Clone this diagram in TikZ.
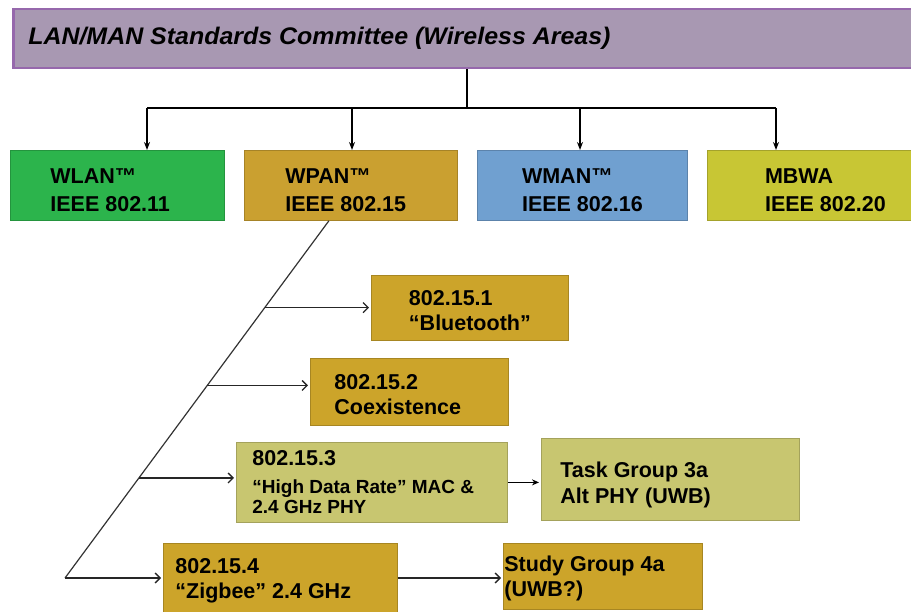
\documentclass[tikz,border=0pt]{standalone}
\usepackage{fontspec}
\setmainfont{Liberation Sans}
\newfontfamily\titlefont{Liberation Sans}[FakeStretch=1.04]
\usepackage{tikz}
\usetikzlibrary{arrows.meta,calc}
\definecolor{lmscfill}{RGB}{168,152,178}
\definecolor{lmscline}{RGB}{150,104,172}
\definecolor{wlangreen}{RGB}{44,180,76}
\definecolor{wpangold}{RGB}{202,160,48}
\definecolor{wmanblue}{RGB}{112,160,208}
\definecolor{mbwayellow}{RGB}{200,198,52}
\definecolor{subgold}{RGB}{204,164,42}
\definecolor{subolive}{RGB}{200,198,112}
\newcommand{\boxstrut}[1]{\rule{0pt}{#1pt}}

\begin{document}
\begin{tikzpicture}[x=1pt,y=-1pt,
  box/.style={anchor=north west, align=flush left, inner sep=2pt, fill=#1,
    draw=#1!82!black, line width=0.8pt},
  headbox/.style={box=#1, minimum height=70pt,
    font=\bfseries\fontsize{21.5}{28}\selectfont},
  topbar/.style={anchor=north west, minimum width=930pt, minimum height=59pt,
    text width=900pt, inner xsep=15pt, align=flush left, fill=lmscfill, draw=lmscline,
    line width=2.5pt, font=\titlefont\bfseries\itshape\fontsize{24}{28}\selectfont},
  toparr/.style={line width=1.6pt, -{Stealth[length=8pt,width=6pt]}},
  subarr/.style={line width=1.3pt, draw=black!85, shorten >=2pt,
    -{Straight Barb[length=5pt,width=10pt]}},
  fillarr/.style={line width=1.3pt, shorten >=2pt, -{Stealth[length=7pt,width=6pt]}}]
\tikzstyle{every node}+=[font=\bfseries\fontsize{21.5}{25}\selectfont]
\clip (0,0) rectangle (911,612);

\node[topbar] (lmsc) at (12,8) {LAN/MAN Standards Committee (Wireless Areas)};

\node[headbox=wlangreen, minimum width=214pt, text width=134pt, inner xsep=40pt]
  (wlan) at (10,150) {\boxstrut{25}WLAN™\\IEEE 802.11};
\node[headbox=wpangold, minimum width=213pt, text width=131pt, inner xsep=41pt]
  (wpan) at (244,150) {\boxstrut{25}WPAN™\\IEEE 802.15};
\node[headbox=wmanblue, minimum width=210pt] (wman) at (477,150)
  {\boxstrut{25}WMAN™\\IEEE 802.16};
\node[headbox=mbwayellow, minimum width=236pt] (mbwa) at (707,150)
  {\boxstrut{25}MBWA\\IEEE 802.20};

\node[box=subgold, minimum width=197pt, minimum height=65pt] (bt) at (371,275)
  {\boxstrut{20}802.15.1\\“Bluetooth”};
\node[box=subgold, minimum width=198pt, minimum height=67pt, text width=150pt,
  inner xsep=24pt] (coex) at (310,358) {\boxstrut{20}802.15.2\\Coexistence};
\node[box=subolive, minimum width=271pt, minimum height=80pt, text width=239pt,
  inner xsep=16pt] (hdr) at (236,442)
  {802.15.3\\[3pt]{\fontsize{19}{21}\selectfont “High Data Rate” MAC \&}\\[-5pt]
   {\fontsize{19}{21}\selectfont 2.4 GHz PHY}};
\node[box=subolive, minimum width=258pt, minimum height=82pt, text width=220pt,
  inner xsep=19pt, font=\bfseries\fontsize{21.5}{26}\selectfont] (tg) at (541,438)
  {\boxstrut{27}Task Group 3a\\Alt PHY (UWB)};
\node[box=subgold, minimum width=234pt, minimum height=74pt, text width=210pt,
  inner xsep=12pt] (zig) at (163,543) {802.15.4\\“Zigbee” 2.4 GHz};
\node[box=subgold, minimum width=199pt, minimum height=66pt, text width=197pt,
  inner xsep=1pt] (sg) at (503,543) {\boxstrut{19}Study Group 4a\\(UWB?)};

\coordinate (hub) at (467,108);
\coordinate (busL) at (147,108);
\coordinate (busR) at (776,108);
\draw[line width=1.6pt] (lmsc.south -| hub) -- (hub);
\draw[line width=1.6pt] (busL) -- (busR);
\foreach \n/\x in {wlan/147,wpan/352,wman/580,mbwa/776}
  \draw[toparr] (\x,108) -- (\n.north -| \x,0);

\coordinate (dtop) at ([xshift=-22pt]wpan.south);
\coordinate (dbot) at (65,578);
\draw[line width=1.2pt, black!80] (dtop) -- (dbot);
\path ($(dtop)!0.243!(dbot)$) coordinate (d1)
      ($(dtop)!0.461!(dbot)$) coordinate (d2)
      ($(dtop)!0.72!(dbot)$) coordinate (d3);
\draw[subarr] (d1) -- (d1 -| bt.west);
\draw[subarr] (d2) -- (d2 -| coex.west);
\draw[subarr] (d3) -- (d3 -| hdr.west);
\draw[subarr] (dbot) -- (dbot -| zig.west);
\draw[fillarr] (hdr.east) -- (hdr.east -| tg.west);
\draw[subarr] (zig.east |- dbot) -- (dbot -| sg.west);
\end{tikzpicture}
\end{document}
